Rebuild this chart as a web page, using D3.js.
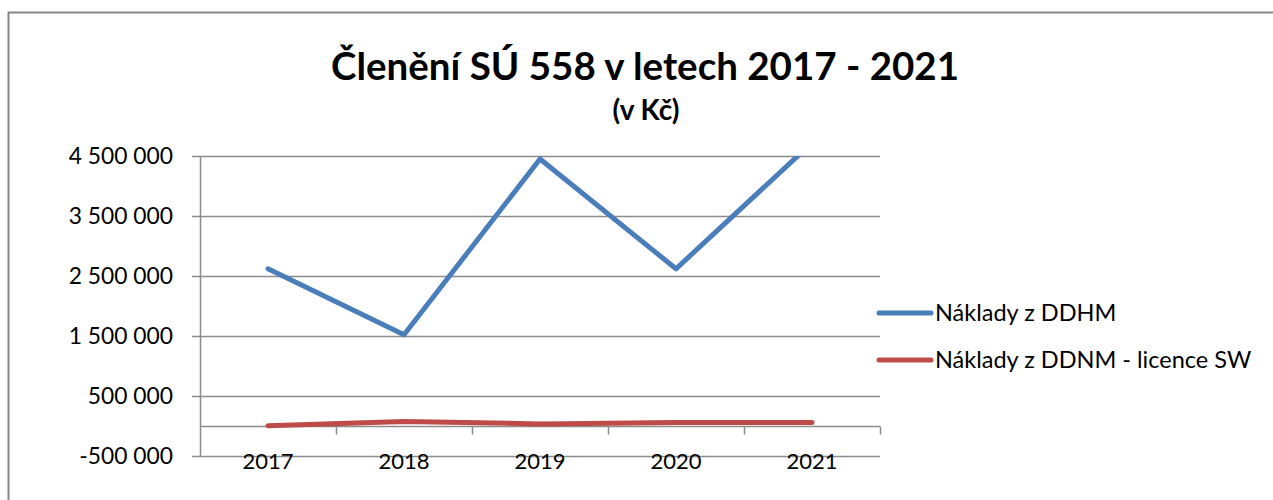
<!DOCTYPE html>
<html>
<head>
<meta charset="utf-8">
<script src="https://cdn.jsdelivr.net/npm/d3@7"></script>
<style>
  html, body { margin: 0; padding: 0; background: #fff; }
  svg { display: block; }
  text { font-family: Lato, "Open Sans", sans-serif; fill: #000; }
</style>
</head>
<body>
<svg id="chart" width="1273" height="500"></svg>
<script>
const categories = ["2017", "2018", "2019", "2020", "2021"];
const seriesNames = ["Náklady z DDHM", "Náklady z DDNM - licence SW"];
const ddhm = [2620000, 1520000, 4450000, 2620000, 4720000];
const ddnm = [5000, 75000, 35000, 60000, 60000];
const yTicks = [-500000, 500000, 1500000, 2500000, 3500000, 4500000];
const titleText = "Členění SÚ 558 v letech 2017 - 2021";
const subtitleText = "(v Kč)";
const colors = ["#4A7EBB", "#BE4B48"];

const svg = d3.select("#chart");

// outer chart border (extends past the right/bottom edge)
svg.append("rect").attr("x", 8.5).attr("y", 12.5).attr("width", 1280).attr("height", 500)
  .attr("fill", "none").attr("stroke", "#888").attr("stroke-width", 2);

const plot = { left: 200, right: 880, top: 156, bottom: 456 };

const x = d3.scaleBand().domain(categories).range([plot.left, plot.right]);
const y = d3.scaleLinear().domain([-500000, 4500000]).range([plot.bottom, plot.top]);

const fmt = v => {
  const s = d3.format(",")(Math.abs(v)).replace(/,/g, " ");
  return (v < 0 ? "-" : "") + s;
};

// gridlines
svg.append("g").selectAll("line").data(yTicks).join("line")
  .attr("x1", plot.left - 8).attr("x2", plot.right)
  .attr("y1", d => Math.round(y(d)) + 0.5).attr("y2", d => Math.round(y(d)) + 0.5)
  .attr("stroke", "#8c8c8c").attr("stroke-width", 1.5);

// y axis line
svg.append("line").attr("x1", plot.left + 0.5).attr("x2", plot.left + 0.5)
  .attr("y1", plot.top).attr("y2", plot.bottom)
  .attr("stroke", "#8c8c8c").attr("stroke-width", 1.5);

// y labels
svg.append("g").selectAll("text").data(yTicks).join("text")
  .attr("x", 173).attr("y", d => y(d)).attr("dy", "0.36em")
  .attr("text-anchor", "end").attr("font-size", 22.8).text(fmt);

// category axis at zero
const y0 = Math.round(y(0)) + 0.5;
svg.append("line").attr("x1", plot.left).attr("x2", plot.right)
  .attr("y1", y0).attr("y2", y0).attr("stroke", "#8c8c8c").attr("stroke-width", 1.5);
const bounds = categories.map(c => x(c)).concat([plot.right]);
svg.append("g").selectAll("line").data(bounds.slice(1)).join("line")
  .attr("x1", d => Math.round(d) + 0.5).attr("x2", d => Math.round(d) + 0.5)
  .attr("y1", y0).attr("y2", y0 + 8).attr("stroke", "#8c8c8c").attr("stroke-width", 1.5);

// x labels
svg.append("g").selectAll("text").data(categories).join("text")
  .attr("x", d => x(d) + x.bandwidth() / 2).attr("y", 461).attr("dy", "0.36em")
  .attr("text-anchor", "middle").attr("font-size", 22).text(d => d);

// lines
svg.append("clipPath").attr("id", "clip").append("rect")
  .attr("x", plot.left - 20).attr("y", plot.top).attr("width", plot.right - plot.left + 40)
  .attr("height", plot.bottom - plot.top + 10);

const line = d3.line().x((d, i) => x(categories[i]) + x.bandwidth() / 2).y(d => y(d));
[ddhm, ddnm].forEach((s, i) => {
  svg.append("path").datum(s).attr("d", line)
    .attr("fill", "none").attr("stroke", colors[i]).attr("stroke-width", 5)
    .attr("stroke-linejoin", "round").attr("stroke-linecap", "round")
    .attr("clip-path", "url(#clip)");
});

// title
svg.append("text").attr("x", 645).attr("y", 80).attr("text-anchor", "middle")
  .attr("font-size", 38.5).attr("font-weight", "bold").text(titleText);
svg.append("text").attr("x", 646).attr("y", 120).attr("text-anchor", "middle")
  .attr("font-size", 28).attr("font-weight", "bold").text(subtitleText);

// legend
const leg = svg.append("g");
seriesNames.forEach((n, i) => {
  const ly = 313 + i * 47;
  leg.append("line").attr("x1", 879).attr("x2", 931).attr("y1", ly).attr("y2", ly)
    .attr("stroke", colors[i]).attr("stroke-width", 5).attr("stroke-linecap", "round");
  leg.append("text").attr("x", 935).attr("y", ly).attr("dy", "0.36em")
    .attr("font-size", 23.5).text(n);
});
</script>
</body>
</html>
